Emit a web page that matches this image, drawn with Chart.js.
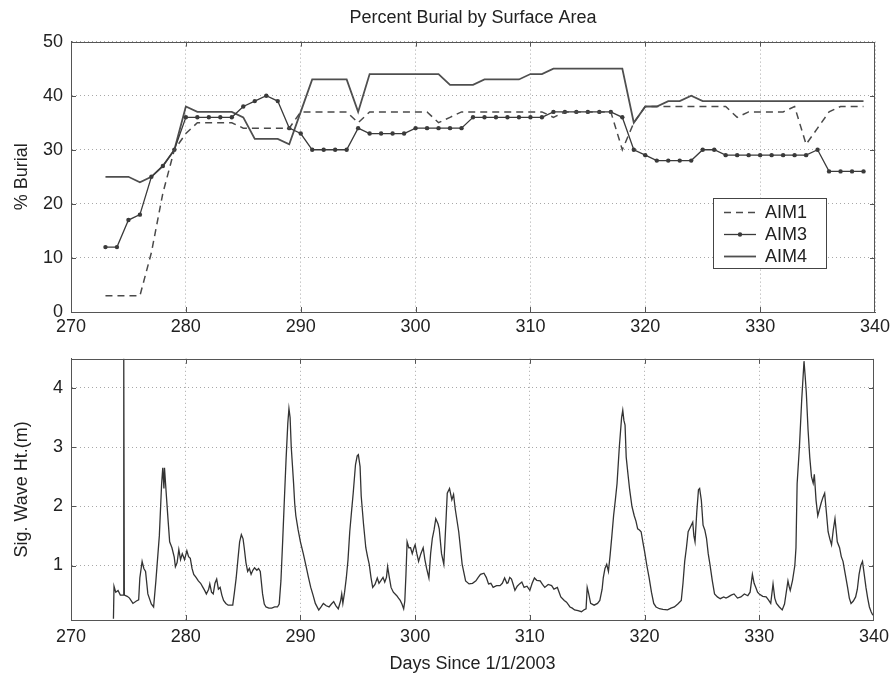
<!DOCTYPE html>
<html>
<head>
<meta charset="utf-8">
<script src="https://cdn.jsdelivr.net/npm/chart.js@4/dist/chart.umd.min.js"></script>
<style>
  html, body { margin: 0; padding: 0; background: #ffffff; }
  #wrap { position: relative; width: 895px; height: 678px; background: #fff; }
  canvas { position: absolute; left: 0; display: block; }
  #top { top: 0; }
  #bottom { top: 340px; }
</style>
</head>
<body>
<div id="wrap">
  <canvas id="top" width="895" height="340"></canvas>
  <canvas id="bottom" width="895" height="338"></canvas>
</div>
<script>
// ---------- DATA ----------
const chartTitle = 'Percent Burial by Surface Area';
const burialLabel = '% Burial';
const waveLabel = 'Sig. Wave Ht.(m)';
const xLabel = 'Days Since 1/1/2003';
const seriesNames = ['AIM1', 'AIM3', 'AIM4'];

const xTicks = [270, 280, 290, 300, 310, 320, 330, 340];
const burialTicks = [0, 10, 20, 30, 40, 50];
const waveTicks = [1, 2, 3, 4];

const burialDays = [273,274,275,276,277,278,279,280,281,282,283,284,285,286,287,288,289,290,291,292,293,294,295,296,297,298,299,300,301,302,303,304,305,306,307,308,309,310,311,312,313,314,315,316,317,318,319,320,321,322,323,324,325,326,327,328,329,330,331,332,333,334,335,336,337,338,339];

const aim1 = [3,3,3,3,11,22,30,33,35,35,35,35,34,34,34,34,34,37,37,37,37,37,35,37,37,37,37,37,37,35,36,37,37,37,37,37,37,37,37,36,37,37,37,37,37,30,35,38,38,38,38,38,38,38,38,36,37,37,37,37,38,31,34,37,38,38,38];

const aim3 = [12,12,17,18,25,27,30,36,36,36,36,36,38,39,40,39,34,33,30,30,30,30,34,33,33,33,33,34,34,34,34,34,36,36,36,36,36,36,36,37,37,37,37,37,37,36,30,29,28,28,28,28,30,30,29,29,29,29,29,29,29,29,30,26,26,26,26];

const aim4 = [25,25,25,24,25,27,30,38,37,37,37,37,36,32,32,32,31,37,43,43,43,43,37,44,44,44,44,44,44,44,42,42,42,43,43,43,43,44,44,45,45,45,45,45,45,45,35,38,38,39,39,40,39,39,39,39,39,39,39,39,39,39,39,39,39,39,39];

const waveDays = [273.70,273.75,273.9,274.1,274.3,274.55,274.6,274.65,274.9,275.1,275.4,275.7,275.9,276.0,276.2,276.35,276.5,276.7,277.0,277.2,277.4,277.7,277.9,278.0,278.1,278.15,278.3,278.45,278.6,278.7,278.8,279.0,279.1,279.25,279.4,279.55,279.7,279.9,280.1,280.25,280.4,280.55,280.7,280.9,281.1,281.3,281.5,281.65,281.8,282.0,282.1,282.25,282.4,282.55,282.7,282.85,283.0,283.15,283.3,283.5,283.7,283.9,284.1,284.25,284.4,284.55,284.7,284.85,285.0,285.1,285.25,285.4,285.55,285.7,285.85,286.0,286.2,286.35,286.5,286.7,286.85,287.0,287.25,287.5,287.75,288.0,288.15,288.3,288.45,288.6,288.75,288.9,289.0,289.1,289.2,289.3,289.4,289.5,289.6,289.8,290.0,290.25,290.5,290.7,290.9,291.1,291.3,291.6,291.8,292.0,292.25,292.5,292.7,292.9,293.1,293.3,293.5,293.6,293.7,293.85,294.0,294.15,294.3,294.45,294.6,294.8,294.95,295.05,295.2,295.3,295.5,295.7,295.85,296.0,296.15,296.3,296.5,296.7,296.85,297.0,297.2,297.35,297.5,297.6,297.75,297.9,298.1,298.4,298.55,298.7,298.85,299.0,299.1,299.2,299.3,299.45,299.6,299.75,299.9,300.0,300.15,300.3,300.5,300.7,300.85,301.0,301.2,301.35,301.5,301.65,301.8,302.0,302.1,302.3,302.5,302.6,302.7,302.8,303.0,303.2,303.35,303.5,303.8,304.1,304.4,304.7,305.0,305.3,305.5,305.7,306.0,306.2,306.4,306.6,306.8,307.1,307.4,307.6,307.8,308.0,308.1,308.25,308.4,308.55,308.7,308.9,309.1,309.3,309.5,309.75,310.0,310.2,310.4,310.6,310.9,311.1,311.3,311.6,311.9,312.1,312.4,312.55,312.7,313.0,313.2,313.5,313.7,313.9,314.2,314.5,314.7,314.9,315.0,315.1,315.3,315.6,315.9,316.1,316.3,316.4,316.55,316.7,316.85,317.0,317.15,317.3,317.45,317.6,317.8,318.0,318.1,318.2,318.3,318.4,318.55,318.7,318.9,319.1,319.25,319.4,319.55,319.7,319.85,320.0,320.2,320.4,320.6,320.8,321.0,321.3,321.6,322.0,322.3,322.6,322.9,323.2,323.35,323.5,323.65,323.8,324.0,324.2,324.3,324.4,324.55,324.7,324.8,324.95,325.1,325.25,325.4,325.55,325.7,325.9,326.1,326.35,326.6,326.9,327.1,327.3,327.55,327.8,328.1,328.4,328.7,329.0,329.2,329.4,329.55,329.7,329.85,330.0,330.3,330.6,330.8,331.0,331.2,331.35,331.5,331.75,332.0,332.2,332.5,332.6,332.7,332.9,333.1,333.2,333.3,333.5,333.7,333.9,334.0,334.1,334.25,334.4,334.55,334.7,334.8,334.95,335.1,335.25,335.4,335.55,335.7,335.85,336.0,336.15,336.3,336.45,336.6,336.7,336.8,337.0,337.15,337.3,337.5,337.7,337.85,338.0,338.2,338.4,338.55,338.7,338.85,339.0,339.15,339.3,339.45,339.6,339.75,339.9];

const waveHeights = [0.10,0.65,0.55,0.58,0.50,0.50,4.50,0.50,0.48,0.45,0.36,0.40,0.42,0.79,1.07,0.95,0.90,0.52,0.35,0.30,0.74,1.50,2.38,2.65,2.30,2.65,2.22,1.80,1.40,1.35,1.30,1.14,0.98,1.05,1.27,1.10,1.20,1.10,1.25,1.15,1.12,0.95,0.85,0.80,0.74,0.70,0.63,0.58,0.52,0.60,0.69,0.55,0.52,0.70,0.77,0.60,0.63,0.50,0.41,0.36,0.33,0.33,0.33,0.55,0.79,1.10,1.40,1.52,1.45,1.30,1.05,0.90,0.95,0.85,0.92,0.96,0.92,0.95,0.90,0.52,0.35,0.30,0.28,0.28,0.30,0.30,0.35,0.74,1.40,2.11,2.80,3.40,3.65,3.50,3.00,2.70,2.40,2.05,1.84,1.60,1.40,1.20,0.98,0.80,0.63,0.50,0.36,0.25,0.30,0.36,0.32,0.30,0.35,0.39,0.32,0.27,0.40,0.52,0.36,0.55,0.79,1.10,1.57,1.90,2.22,2.70,2.85,2.87,2.67,2.17,1.70,1.30,1.15,1.02,0.80,0.63,0.68,0.79,0.70,0.74,0.80,0.72,0.80,0.98,0.80,0.63,0.55,0.49,0.45,0.41,0.35,0.27,0.40,0.85,1.40,1.30,1.30,1.20,1.30,1.35,1.20,1.07,1.20,1.30,1.10,0.95,0.79,1.20,1.46,1.60,1.79,1.70,1.62,1.20,1.02,1.40,1.80,2.22,2.30,2.11,2.20,1.95,1.57,1.02,0.74,0.69,0.70,0.74,0.80,0.85,0.87,0.80,0.69,0.70,0.63,0.66,0.66,0.70,0.79,0.70,0.71,0.80,0.77,0.68,0.58,0.65,0.69,0.72,0.63,0.65,0.58,0.70,0.79,0.75,0.74,0.68,0.63,0.68,0.66,0.60,0.63,0.55,0.47,0.41,0.38,0.30,0.28,0.25,0.24,0.22,0.25,0.27,0.63,0.55,0.36,0.33,0.36,0.41,0.60,0.79,0.95,1.02,0.90,1.18,1.50,1.84,2.10,2.38,3.00,3.50,3.62,3.45,3.37,2.83,2.55,2.28,2.00,1.84,1.75,1.62,1.60,1.57,1.40,1.24,1.00,0.79,0.55,0.36,0.30,0.27,0.26,0.25,0.28,0.30,0.35,0.41,0.70,1.07,1.30,1.57,1.65,1.73,1.50,1.40,1.90,2.28,2.30,2.10,1.68,1.60,1.46,1.20,1.02,0.75,0.52,0.47,0.44,0.47,0.45,0.47,0.50,0.52,0.45,0.47,0.52,0.49,0.55,0.85,0.70,0.63,0.55,0.52,0.48,0.47,0.42,0.36,0.69,0.45,0.36,0.30,0.25,0.35,0.74,0.65,0.58,0.75,1.00,1.30,2.38,3.00,3.80,4.45,4.20,3.92,3.30,2.83,2.50,2.39,2.54,2.10,1.84,1.95,2.06,2.15,2.22,1.90,1.57,1.45,1.35,1.60,1.79,1.60,1.40,1.30,1.15,1.07,0.85,0.63,0.45,0.36,0.40,0.47,0.60,0.85,1.00,1.07,0.85,0.63,0.45,0.30,0.22,0.16];

// ---------- STYLE / HELPERS ----------
const FONT = "'Liberation Sans', Arial, Helvetica, sans-serif";
Chart.defaults.font.family = FONT;
Chart.defaults.color = '#222';
const AXIS_COLOR = '#555';
const GRID_COLOR = '#a8a8a8';

function toXY(xs, ys) { return xs.map((x, i) => ({ x: x, y: ys[i] })); }

// Draws the box around the plot and inward tick marks (MATLAB style)
const frameTicks = {
  id: 'frameTicks',
  afterDatasetsDraw(chart) {
    const { ctx, chartArea: a, scales } = chart;
    ctx.save();
    ctx.strokeStyle = AXIS_COLOR;
    ctx.lineWidth = 1;
    ctx.setLineDash([]);
    ctx.strokeRect(Math.round(a.left) + 0.5, Math.round(a.top) + 0.5,
                   Math.round(a.right - a.left) - 1, Math.round(a.bottom - a.top));
    const L = 5;
    ctx.beginPath();
    scales.x.ticks.forEach(t => {
      const px = Math.round(scales.x.getPixelForValue(t.value)) + 0.5;
      if (px <= a.left + 1 || px >= a.right - 1) return;
      ctx.moveTo(px, a.bottom); ctx.lineTo(px, a.bottom - L);
      ctx.moveTo(px, a.top); ctx.lineTo(px, a.top + L);
    });
    scales.y.ticks.forEach(t => {
      const py = Math.round(scales.y.getPixelForValue(t.value)) + 0.5;
      if (py <= a.top + 1 || py >= a.bottom - 1) return;
      ctx.moveTo(a.left, py); ctx.lineTo(a.left + L, py);
      ctx.moveTo(a.right, py); ctx.lineTo(a.right - L, py);
    });
    ctx.stroke();
    ctx.restore();
  }
};

// Legend box drawn inside the plot area (top chart)
const insideLegend = {
  id: 'insideLegend',
  afterDraw(chart) {
    const { ctx } = chart;
    const bx = 713, by = 198, bw = 113, bh = 70;
    ctx.save();
    ctx.fillStyle = '#fff';
    ctx.fillRect(bx, by, bw, bh);
    ctx.strokeStyle = '#444';
    ctx.lineWidth = 1;
    ctx.strokeRect(bx + 0.5, by + 0.5, bw, bh);
    const rows = [212, 234, 256];
    chart.data.datasets.forEach((ds, i) => {
      const y = rows[i] + 0.5;
      ctx.strokeStyle = ds.borderColor;
      ctx.lineWidth = ds.borderWidth;
      ctx.setLineDash(ds.borderDash || []);
      ctx.beginPath();
      ctx.moveTo(724, y); ctx.lineTo(756, y);
      ctx.stroke();
      ctx.setLineDash([]);
      if (ds.pointRadius > 0) {
        ctx.fillStyle = ds.pointBackgroundColor;
        ctx.beginPath();
        ctx.arc(740, y, ds.pointRadius, 0, Math.PI * 2);
        ctx.fill();
      }
      ctx.fillStyle = '#222';
      ctx.font = '18px ' + FONT;
      ctx.textBaseline = 'middle';
      ctx.textAlign = 'left';
      ctx.fillText(ds.label, 765, rows[i] + 1);
    });
    ctx.restore();
  }
};

function xScale(height, pad, withTitle) {
  return {
    type: 'linear', min: 270, max: 340,
    afterBuildTicks: s => { s.ticks = xTicks.map(v => ({ value: v })); },
    afterFit: s => { s.height = height; },
    ticks: { font: { size: 18 }, padding: pad, maxRotation: 0, autoSkip: false, color: '#222',
             callback: v => String(v) },
    grid: { color: GRID_COLOR, drawTicks: false, lineWidth: 1 },
    border: { display: true, color: AXIS_COLOR, dash: [1, 3] },
    title: withTitle ? { display: true, text: xLabel, font: { size: 18 }, color: '#222',
                         padding: { top: 0, bottom: 3 } } : { display: false }
  };
}

function yScale(min, max, ticks, label) {
  return {
    type: 'linear', min: min, max: max,
    afterBuildTicks: s => { s.ticks = ticks.map(v => ({ value: v })); },
    afterFit: s => { s.width = 71; },
    ticks: { font: { size: 18 }, padding: 8, color: '#222', callback: v => String(v) },
    grid: { color: GRID_COLOR, drawTicks: false, lineWidth: 1 },
    border: { display: true, color: AXIS_COLOR, dash: [1, 3] },
    title: { display: true, text: label, font: { size: 18 }, color: '#222',
             padding: { top: 11, bottom: 0 } }
  };
}

// ---------- TOP CHART ----------
new Chart(document.getElementById('top'), {
  type: 'line',
  data: {
    datasets: [
      { label: seriesNames[0], data: toXY(burialDays, aim1), borderColor: '#4a4a4a',
        borderWidth: 1.5, borderDash: [7, 5], pointRadius: 0, fill: false, tension: 0 },
      { label: seriesNames[1], data: toXY(burialDays, aim3), borderColor: '#3a3a3a',
        borderWidth: 1.3, pointRadius: 2.2, pointBackgroundColor: '#3a3a3a', pointBorderWidth: 0,
        pointHoverRadius: 2.2, fill: false, tension: 0 },
      { label: seriesNames[2], data: toXY(burialDays, aim4), borderColor: '#4f4f4f',
        borderWidth: 1.8, pointRadius: 0, fill: false, tension: 0 }
    ]
  },
  options: {
    responsive: false, animation: false, events: [],
    layout: { padding: { left: 0, right: 20, top: 0, bottom: 0 } },
    plugins: {
      legend: { display: false },
      tooltip: { enabled: false },
      title: { display: true, text: chartTitle, fullSize: false, color: '#222',
               font: { size: 18, weight: 'normal' }, padding: { top: 7, bottom: 13 } }
    },
    scales: {
      x: xScale(28, 4, false),
      y: yScale(0, 50, burialTicks, burialLabel)
    }
  },
  plugins: [frameTicks, insideLegend]
});

// ---------- BOTTOM CHART ----------
new Chart(document.getElementById('bottom'), {
  type: 'line',
  data: {
    datasets: [
      { label: 'Hs', data: toXY(waveDays, waveHeights), borderColor: '#333333',
        borderWidth: 1.3, pointRadius: 0, fill: false, tension: 0 }
    ]
  },
  options: {
    responsive: false, animation: false, events: [],
    layout: { padding: { left: 0, right: 20, top: 12, bottom: 0 } },
    plugins: { legend: { display: false }, tooltip: { enabled: false } },
    scales: {
      x: xScale(58, 6, true),
      y: yScale(0.08, 4.49, waveTicks, waveLabel)
    }
  },
  plugins: [frameTicks]
});
</script>
</body>
</html>
